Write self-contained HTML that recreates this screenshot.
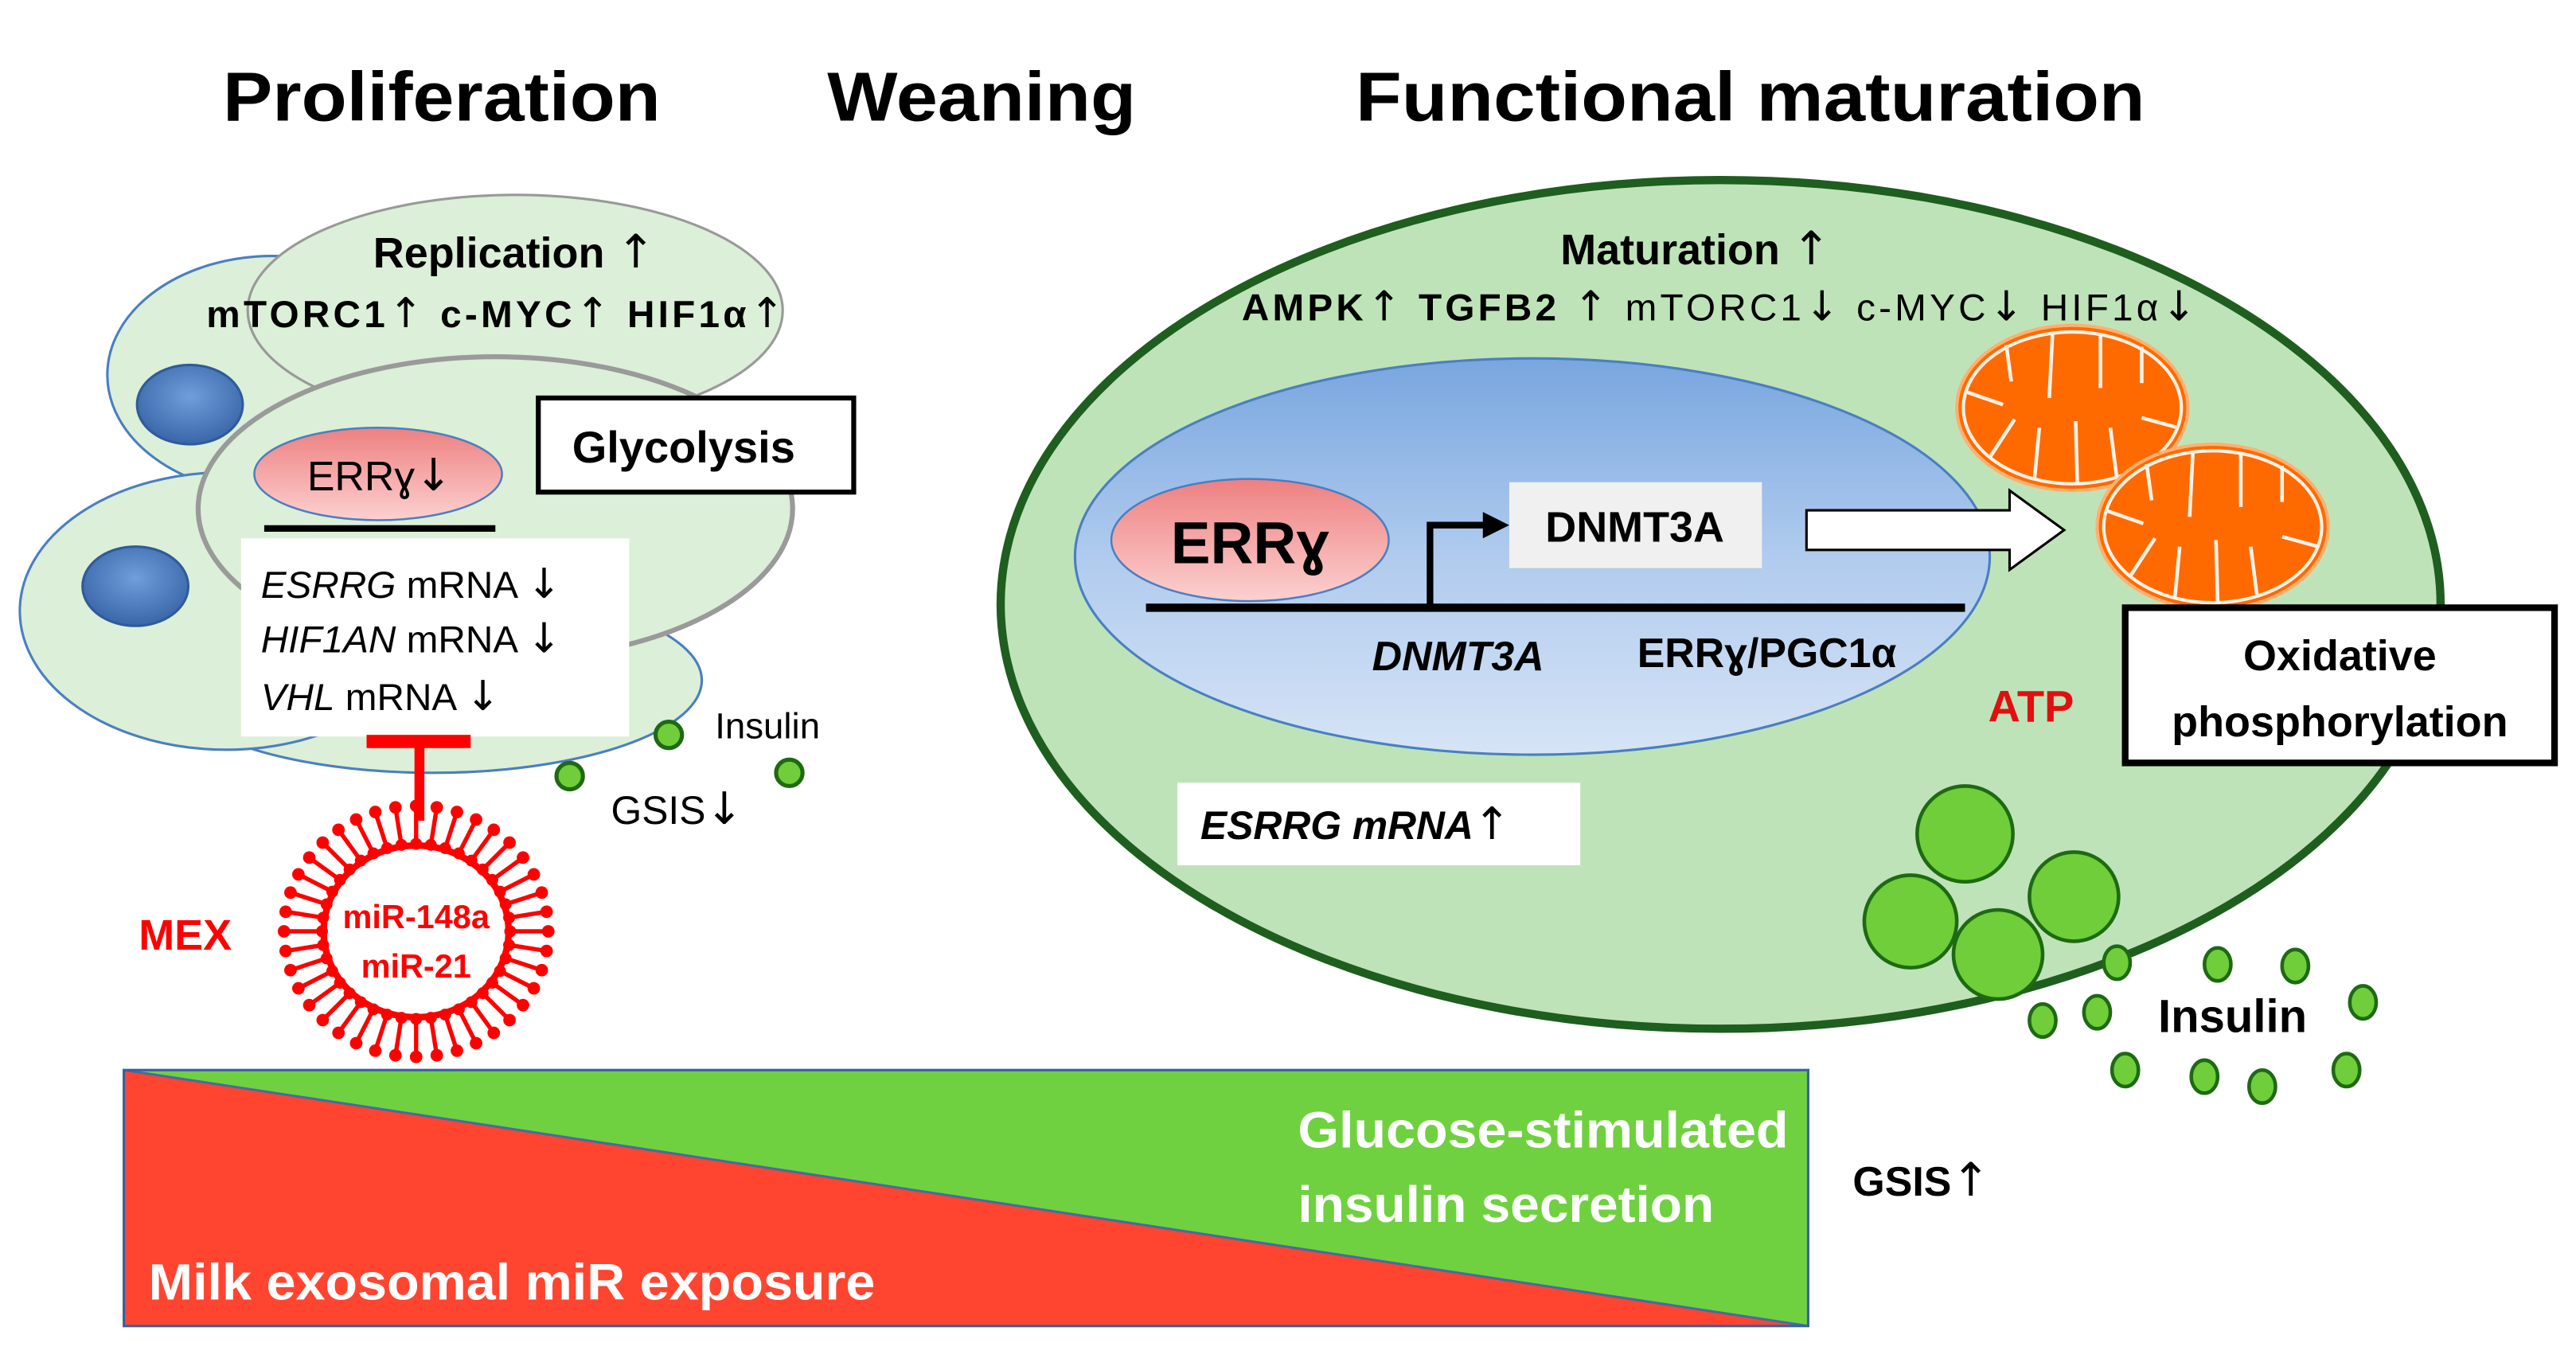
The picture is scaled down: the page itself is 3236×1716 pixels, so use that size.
<!DOCTYPE html>
<html><head><meta charset="utf-8">
<style>
html,body{margin:0;padding:0;background:#fff;}
svg{display:block;}
text{font-family:"Liberation Sans",sans-serif;}
.ar{font-family:"DejaVu Sans",sans-serif;font-weight:normal;}
</style></head>
<body>
<svg id="s" width="3236" height="1716" viewBox="0 0 1560 827.2" xmlns="http://www.w3.org/2000/svg">
<defs>
<radialGradient id="nuc" cx="50%" cy="40%" r="60%">
<stop offset="0" stop-color="#6f9edb"/><stop offset="1" stop-color="#3a66a8"/></radialGradient>
<linearGradient id="pink" x1="0" y1="0" x2="0" y2="1">
<stop offset="0" stop-color="#ee8080"/><stop offset="1" stop-color="#fcd0d0"/></linearGradient>
<linearGradient id="bnuc" x1="0" y1="0" x2="0" y2="1">
<stop offset="0" stop-color="#78a6df"/><stop offset="0.5" stop-color="#b0cbee"/><stop offset="1" stop-color="#d6e4f6"/></linearGradient>
<g id="mito">
<ellipse cx="0" cy="0" rx="70" ry="50" fill="#ff6a00" stroke="#ffb070" stroke-width="2"/>
<ellipse cx="0" cy="0" rx="66" ry="46" fill="none" stroke="#fff2e8" stroke-width="2"/>
<g stroke="#fff2e8" stroke-width="2.2">
<line x1="-40" y1="-38" x2="-37" y2="-16"/>
<line x1="-12" y1="-45" x2="-14" y2="-6"/>
<line x1="17" y1="-45" x2="17" y2="-12"/>
<line x1="42" y1="-37" x2="42" y2="-15"/>
<line x1="-65" y1="-10" x2="-42" y2="-2"/>
<line x1="64" y1="12" x2="42" y2="6"/>
<line x1="-50" y1="30" x2="-35" y2="7"/>
<line x1="-23" y1="44" x2="-20" y2="12"/>
<line x1="3" y1="46" x2="2" y2="8"/>
<line x1="27" y1="43" x2="23" y2="12"/>
</g></g>
</defs>

<!-- titles -->
<text x="135" y="73" font-size="42" font-weight="bold" textLength="265" lengthAdjust="spacingAndGlyphs">Proliferation</text>
<text x="501" y="73" font-size="42" font-weight="bold" textLength="187" lengthAdjust="spacingAndGlyphs">Weaning</text>
<text x="821" y="73" font-size="42" font-weight="bold" textLength="478" lengthAdjust="spacingAndGlyphs">Functional maturation</text>

<!-- left cells -->
<ellipse cx="165" cy="227" rx="100" ry="72" fill="#dcefd8" stroke="#4a7fc1" stroke-width="1.5"/>
<ellipse cx="115" cy="245" rx="32" ry="24" fill="url(#nuc)" stroke="#2e5b9a" stroke-width="1.5"/>
<ellipse cx="312" cy="188" rx="162" ry="70" fill="#dcefd8" stroke="#999" stroke-width="1.5"/>
<ellipse cx="262" cy="412" rx="163" ry="56" fill="#dcefd8" stroke="#4a7fc1" stroke-width="1.5"/>
<ellipse cx="137" cy="370" rx="125" ry="84" fill="#dcefd8" stroke="#4a7fc1" stroke-width="1.5"/>
<ellipse cx="82" cy="355" rx="32" ry="24" fill="url(#nuc)" stroke="#2e5b9a" stroke-width="1.5"/>
<ellipse cx="300" cy="308" rx="180" ry="92" fill="#dcefd8" stroke="#9a9a9a" stroke-width="3"/>

<text x="226" y="162" font-size="26" font-weight="bold">Replication <tspan class="ar" font-size="28">↑</tspan></text>
<text x="125" y="198" font-size="23" font-weight="bold" textLength="350" lengthAdjust="spacing">mTORC1<tspan class="ar" font-size="25">↑</tspan> c-MYC<tspan class="ar" font-size="25">↑</tspan> HIF1α<tspan class="ar" font-size="25">↑</tspan></text>

<ellipse cx="229" cy="287" rx="75" ry="28" fill="url(#pink)" stroke="#4a7fc1" stroke-width="1.2"/>
<text x="186" y="297" font-size="25">ERRɣ<tspan class="ar" font-size="27">↓</tspan></text>
<line x1="160" y1="320" x2="300" y2="320" stroke="#000" stroke-width="4"/>
<rect x="146" y="326" width="235" height="120" fill="#fff"/>
<text x="158" y="362" font-size="23"><tspan font-style="italic">ESRRG</tspan> mRNA <tspan class="ar" font-size="25">↓</tspan></text>
<text x="158" y="395" font-size="23"><tspan font-style="italic">HIF1AN</tspan> mRNA <tspan class="ar" font-size="25">↓</tspan></text>
<text x="158" y="430" font-size="23"><tspan font-style="italic">VHL</tspan> mRNA <tspan class="ar" font-size="25">↓</tspan></text>

<rect x="326" y="241" width="191" height="57" fill="#fff" stroke="#000" stroke-width="3"/>
<text x="414" y="280" font-size="27" font-weight="bold" text-anchor="middle">Glycolysis</text>

<!-- inhibition -->
<rect x="222" y="445" width="63" height="8" fill="#ff0000"/>
<rect x="251" y="449" width="6" height="48" fill="#ff0000"/>
<g id="virus"></g>
<text x="252" y="562" font-size="20" font-weight="bold" fill="#ff0000" text-anchor="middle">miR-148a</text>
<text x="252" y="592" font-size="20" font-weight="bold" fill="#ff0000" text-anchor="middle">miR-21</text>
<text x="84" y="575" font-size="26" font-weight="bold" fill="#ff0000">MEX</text>

<g fill="#6fce3a" stroke="#1e6a12" stroke-width="2.5">
<circle cx="405" cy="445" r="8"/><circle cx="345" cy="470" r="8"/><circle cx="478" cy="468" r="8"/>
</g>
<text x="433" y="447" font-size="22">Insulin</text>
<text x="370" y="499" font-size="24">GSIS<tspan class="ar" font-size="27">↓</tspan></text>

<!-- right cell -->
<ellipse cx="1042" cy="366" rx="436" ry="257" fill="#bfe3b8" stroke="#1e5e1e" stroke-width="5"/>
<text x="945" y="160" font-size="26" font-weight="bold">Maturation <tspan class="ar" font-size="28">↑</tspan></text>

<ellipse cx="928" cy="337" rx="277" ry="120" fill="url(#bnuc)" stroke="#4a7fc1" stroke-width="1.5"/>
<ellipse cx="757" cy="327" rx="84" ry="37" fill="url(#pink)" stroke="#4a7fc1" stroke-width="1.2"/>
<text x="757" y="341" font-size="36" font-weight="bold" text-anchor="middle">ERRɣ</text>
<line x1="694" y1="368" x2="1190" y2="368" stroke="#000" stroke-width="5"/>
<polyline points="866,368 866,318 900,318" fill="none" stroke="#000" stroke-width="4"/>
<polygon points="898,310 914,318 898,326" fill="#000"/>
<rect x="914" y="292" width="153" height="52" fill="#f0f0f0"/>
<text x="990" y="328" font-size="26" font-weight="bold" text-anchor="middle">DNMT3A</text>
<polygon points="1094,309 1217,309 1217,297 1250,321 1217,345 1217,333 1094,333" fill="#fff" stroke="#000" stroke-width="1.5"/>
<text x="883" y="406" font-size="25" font-weight="bold" font-style="italic" text-anchor="middle">DNMT3A</text>
<text x="1070" y="404" font-size="25" font-weight="bold" text-anchor="middle">ERRɣ/PGC1α</text>

<use href="#mito" transform="translate(1255,247)"/>
<use href="#mito" transform="translate(1340,319)"/>

<text x="752" y="194" font-size="23" textLength="578" lengthAdjust="spacing"><tspan font-weight="bold">AMPK</tspan><tspan class="ar" font-size="25">↑</tspan> <tspan font-weight="bold">TGFB2</tspan> <tspan class="ar" font-size="25">↑</tspan> mTORC1<tspan class="ar" font-size="25">↓</tspan> c-MYC<tspan class="ar" font-size="25">↓</tspan> HIF1α<tspan class="ar" font-size="25">↓</tspan></text>

<text x="1230" y="437" font-size="27" font-weight="bold" fill="#e01010" text-anchor="middle">ATP</text>
<rect x="1287" y="368" width="260" height="94" fill="#fff" stroke="#000" stroke-width="4"/>
<text x="1417" y="406" font-size="26" font-weight="bold" text-anchor="middle">Oxidative</text>
<text x="1417" y="446" font-size="26" font-weight="bold" text-anchor="middle">phosphorylation</text>

<rect x="713" y="474" width="244" height="50" fill="#fff"/>
<text x="727" y="508" font-size="24" font-weight="bold" font-style="italic">ESRRG mRNA<tspan class="ar" font-size="27" font-style="normal">↑</tspan></text>

<g fill="#6fce3a" stroke="#1e6a12" stroke-width="2.2">
<circle cx="1190" cy="505" r="29"/><circle cx="1256" cy="543" r="27"/><circle cx="1157" cy="558" r="28"/><circle cx="1210" cy="578" r="27"/>
<ellipse cx="1282" cy="583" rx="8" ry="10"/><ellipse cx="1343" cy="584" rx="8" ry="10"/><ellipse cx="1390" cy="585" rx="8" ry="10"/>
<ellipse cx="1237" cy="618" rx="8" ry="10"/><ellipse cx="1270" cy="613" rx="8" ry="10"/><ellipse cx="1431" cy="607" rx="8" ry="10"/>
<ellipse cx="1287" cy="648" rx="8" ry="10"/><ellipse cx="1335" cy="652" rx="8" ry="10"/><ellipse cx="1370" cy="658" rx="8" ry="10"/><ellipse cx="1421" cy="648" rx="8" ry="10"/>
</g>
<text x="1352" y="625" font-size="28" font-weight="bold" text-anchor="middle">Insulin</text>
<text x="1122" y="724" font-size="25" font-weight="bold">GSIS<tspan class="ar" font-size="28">↑</tspan></text>

<!-- bottom bar -->
<rect x="75" y="648" width="1020" height="155" fill="#ff4530"/>
<polygon points="75,648 1095,648 1095,803" fill="#6fd13f"/>
<line x1="75" y1="648" x2="1095" y2="803" stroke="#4a6aa0" stroke-width="1.5"/>
<rect x="75" y="648" width="1020" height="155" fill="none" stroke="#3b5fa0" stroke-width="1.5"/>
<text x="786" y="695" font-size="31" font-weight="bold" fill="#fff" textLength="297" lengthAdjust="spacingAndGlyphs">Glucose-stimulated</text>
<text x="786" y="740" font-size="31" font-weight="bold" fill="#fff" textLength="252" lengthAdjust="spacingAndGlyphs">insulin secretion</text>
<text x="90" y="787" font-size="31" font-weight="bold" fill="#fff" textLength="440" lengthAdjust="spacingAndGlyphs">Milk exosomal miR exposure</text>
</svg>
<script>
(function(){
var g=document.getElementById('virus'),cx=252,cy=564,n=40,h='';
for(var i=0;i<n;i++){var a=2*Math.PI*i/n;var c=Math.cos(a),s=Math.sin(a);
var x1=cx+c*59,y1=cy+s*55,x2=cx+c*78,y2=cy+s*74;
h+='<line x1="'+x1+'" y1="'+y1+'" x2="'+x2+'" y2="'+y2+'" stroke="#ff0000" stroke-width="2.6"/>';
h+='<circle cx="'+(cx+c*57)+'" cy="'+(cy+s*53)+'" r="3.6" fill="#ff0000"/>';
h+='<circle cx="'+(cx+c*80)+'" cy="'+(cy+s*76)+'" r="3.8" fill="#ff0000"/>';}
h+='<ellipse cx="'+cx+'" cy="'+cy+'" rx="56" ry="52" fill="none" stroke="#ff0000" stroke-width="4"/>';
g.innerHTML=h;})();
</script>
</body></html>
